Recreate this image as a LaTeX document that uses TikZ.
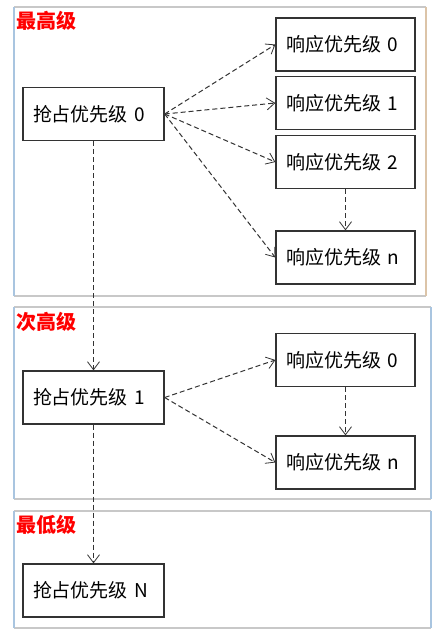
\documentclass[tikz,border=0pt]{standalone}
\usepackage{fontspec}
\setmainfont{Noto Sans CJK SC}
\usetikzlibrary{arrows.meta}
\definecolor{frgray}{HTML}{C8C8C8}
\definecolor{frblue}{HTML}{A9C5E0}
\definecolor{frtan}{HTML}{DCC4A8}
\definecolor{arrcol}{HTML}{333333}
\tikzset{
  box/.style={draw=black!80, line width=1.3pt, fill=white, minimum height=53pt,
    text width=121pt, inner xsep=10pt, align=left, font=\fontsize{19}{22}\selectfont},
  link/.style={draw=arrcol, line width=1pt, dash pattern=on 5pt off 3pt,
    -{Straight Barb[length=8pt,width=12pt,line width=0.8pt]}},
  grp/.style={text=red, font=\fontsize{20}{22}\selectfont\bfseries, anchor=west, inner sep=0pt},
}
\begin{document}
\begin{tikzpicture}[x=1pt,y=-1pt]
\useasboundingbox (0,0) rectangle (446,638);
\fill[white] (0,0) rectangle (446,638);
% group frames
\draw[frgray, line width=1.5pt] (14,7) -- (426,7);
\draw[frgray, line width=1.5pt] (14,296) -- (426,296);
\draw[frblue, line width=1.5pt] (14,7) -- (14,296);
\draw[frtan, line width=1.5pt] (426,7) -- (426,296);
\draw[frgray, line width=1.5pt] (14,307) -- (431,307);
\draw[frgray, line width=1.5pt] (14,499) -- (431,499);
\draw[frblue, line width=1.5pt] (14,307) -- (14,499);
\draw[frblue, line width=1.5pt] (431,307) -- (431,499);
\draw[frgray, line width=1.5pt] (14,511) -- (431,511);
\draw[frgray, line width=1.5pt] (14,628) -- (431,628);
\draw[frblue, line width=1.5pt] (14,511) -- (14,628);
\draw[frblue, line width=1.5pt] (431,511) -- (431,628);
\node[grp] (g1) at (16,21) {最高级};
\node[grp] (g2) at (16,322) {次高级};
\node[grp] (g3) at (16,525) {最低级};
% nodes
\node[box] (p0) at (93.5,114) {抢占优先级 0};
\node[box, text width=119pt] (r0) at (345.5,44.5) {响应优先级 0};
\node[box, text width=119pt] (r1) at (345.5,103) {响应优先级 1};
\node[box, text width=119pt] (r2) at (345.5,162) {响应优先级 2};
\node[box, text width=119pt] (rn) at (345.5,257.5) {响应优先级 n};
\node[box] (p1) at (93.5,397.5) {抢占优先级 1};
\node[box, text width=119pt] (r0b) at (345.5,360) {响应优先级 0};
\node[box, text width=119pt] (rnb) at (345.5,462.5) {响应优先级 n};
\node[box] (pn) at (93.5,590.5) {抢占优先级 N};
% links
\draw[link] (p0.east) -- (r0.west);
\draw[link] (p0.east) -- (r1.west);
\draw[link] (p0.east) -- (r2.west);
\draw[link] (p0.east) -- (rn.west);
\draw[link] (r2.south) -- (rn.north);
\draw[link] (p0.south) -- (p1.north);
\draw[link] (p1.east) -- (r0b.west);
\draw[link] (p1.east) -- (rnb.west);
\draw[link] (r0b.south) -- (rnb.north);
\draw[link] (p1.south) -- (pn.north);
\end{tikzpicture}
\end{document}
